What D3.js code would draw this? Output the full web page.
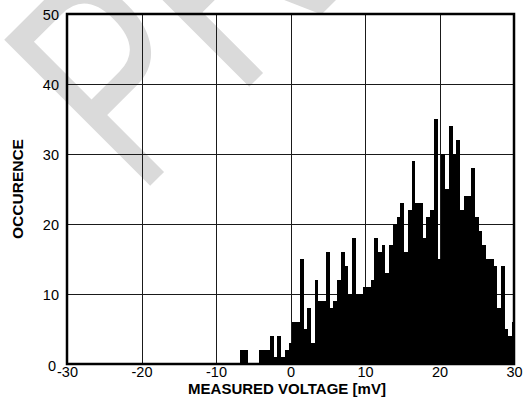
<!DOCTYPE html>
<html>
<head>
<meta charset="utf-8">
<script src="https://cdn.jsdelivr.net/npm/d3@7"></script>
<style>
  html, body { margin: 0; padding: 0; background: #fff; }
  svg { display: block; }
  text { font-family: Arial, "Liberation Sans", Helvetica, sans-serif; }
</style>
</head>
<body>
<div id="chart"></div>
<script>
// ---- data ----
const binCenters = [
  -7, -6.5, -6, -5.5, -5, -4.5, -4, -3.5, -3, -2.5, -2, -1.5, -1, -0.5,
  0, 0.5, 1, 1.5, 2, 2.5, 3, 3.5, 4, 4.5, 5, 5.5, 6, 6.5, 7, 7.5, 8, 8.5, 9, 9.5,
  10, 10.5, 11, 11.5, 12, 12.5, 13, 13.5, 14, 14.5, 15, 15.5, 16, 16.5, 17, 17.5,
  18, 18.5, 19, 19.5, 20, 20.5, 21, 21.5, 22, 22.5, 23, 23.5, 24, 24.5, 25, 25.5,
  26, 26.5, 27, 27.5, 28, 28.5, 29, 29.5, 30
];
const occurrences = [
  0, 2, 2, 0, 0, 0, 2, 2, 2, 4, 1, 4, 1, 2,
  3, 6, 6, 15, 5, 8, 3, 12, 9, 9, 16, 8, 9, 12, 16, 14, 10, 18, 10, 10,
  11, 11, 12, 18, 16, 17, 13, 17, 20, 21, 23, 16, 22, 29, 23, 23,
  18, 21, 22, 35, 15, 30, 25, 34, 30, 32, 22, 24, 24, 28, 21, 19,
  17, 15, 15, 14, 8, 14, 5, 4, 6
];
const xTicks = [-30, -20, -10, 0, 10, 20, 30];
const yTicks = [0, 10, 20, 30, 40, 50];
const xTitle = "MEASURED VOLTAGE [mV]";
const yTitle = "OCCURENCE";
const watermark = "PRELIMINARY";
const binWidth = 0.5;

// ---- layout ----
const W = 526, H = 409;
const mLeft = 67, mRight = 514, mTop = 14, mBottom = 364;

const svg = d3.select("#chart").append("svg")
  .attr("width", W).attr("height", H);

// watermark (behind everything)
svg.append("text")
  .attr("transform", "translate(138,198) rotate(-45) scale(0.7,1)")
  .attr("font-size", 300)
  .attr("fill", "#dadada")
  .text(watermark);

const x = d3.scaleLinear().domain([-30, 30]).range([mLeft, mRight]);
const y = d3.scaleLinear().domain([0, 50]).range([mBottom, mTop]);

// grid
const grid = svg.append("g").attr("stroke", "#1a1a1a").attr("stroke-width", 1)
  .attr("shape-rendering", "crispEdges");
grid.selectAll("line.v").data(xTicks.slice(1, -1)).join("line")
  .attr("x1", d => Math.round(x(d)) + 0.5).attr("x2", d => Math.round(x(d)) + 0.5)
  .attr("y1", mTop).attr("y2", mBottom);
grid.selectAll("line.h").data(yTicks.slice(1, -1)).join("line")
  .attr("y1", d => Math.round(y(d)) + 0.5).attr("y2", d => Math.round(y(d)) + 0.5)
  .attr("x1", mLeft).attr("x2", mRight);

// bars
const bins = binCenters.map((c, i) => ({ c, n: occurrences[i] }));
svg.append("g").attr("shape-rendering", "crispEdges")
  .selectAll("rect").data(bins.filter(d => d.n > 0)).join("rect")
  .attr("x", d => x(Math.max(-30, d.c - binWidth / 2)))
  .attr("width", d => x(Math.min(30, d.c + binWidth / 2)) - x(Math.max(-30, d.c - binWidth / 2)))
  .attr("y", d => y(d.n))
  .attr("height", d => y(0) - y(d.n))
  .attr("fill", "#000");

// frame
svg.append("rect")
  .attr("x", mLeft).attr("y", mTop)
  .attr("width", mRight - mLeft).attr("height", mBottom - mTop)
  .attr("fill", "none").attr("stroke", "#000").attr("stroke-width", 2.5);

// axes (labels only)
const fmt = d => String(d);
const xAxis = d3.axisBottom(x).tickValues(xTicks).tickSize(0).tickPadding(3).tickFormat(fmt);
const gx = svg.append("g").attr("transform", `translate(0,${mBottom})`).call(xAxis);
gx.select(".domain").remove();
gx.selectAll("text").attr("font-size", 14.5).attr("font-family", "Arial, 'Liberation Sans', sans-serif")
  .attr("fill", "#000").attr("dy", "0.71em");

const yAxis = d3.axisLeft(y).tickValues(yTicks).tickSize(0).tickPadding(8).tickFormat(fmt);
const gy = svg.append("g").attr("transform", `translate(${mLeft},0)`).call(yAxis);
gy.select(".domain").remove();
gy.selectAll("text").attr("font-size", 14.5).attr("font-family", "Arial, 'Liberation Sans', sans-serif")
  .attr("fill", "#000").attr("dy", "0.38em");
gy.selectAll(".tick").filter(d => d === 0).select("text").attr("dy", "0.45em").attr("x", -11);

// titles
svg.append("text")
  .attr("x", 287).attr("y", 394)
  .attr("text-anchor", "middle")
  .attr("font-size", 15).attr("font-weight", "bold")
  .text(xTitle);

svg.append("text")
  .attr("transform", "translate(23,189) rotate(-90)")
  .attr("text-anchor", "middle")
  .attr("font-size", 15.5).attr("font-weight", "bold")
  .text(yTitle);
</script>
</body>
</html>
